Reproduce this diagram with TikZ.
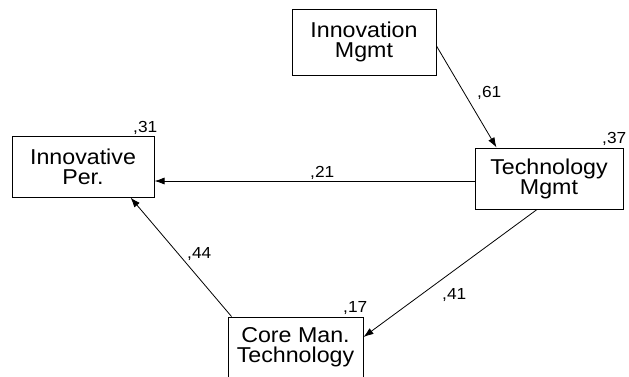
\documentclass[tikz,border=0pt]{standalone}
\usepackage{fontspec}
\usetikzlibrary{arrows.meta}
\newfontfamily\amosfont[FakeStretch=1.08]{Liberation Sans}

\begin{document}
\begin{tikzpicture}[x=1pt,y=-1pt,
						var/.style={draw,line width=1pt,inner sep=0pt,minimum height=61pt,align=center,font=\amosfont\fontsize{21.5}{20}\selectfont},
						coef/.style={inner sep=0pt,anchor=base west,font=\amosfont\fontsize{16}{16}\selectfont},
						effect/.style={line width=0.8pt,-{Latex[length=10pt,width=7pt]}}]

		\useasboundingbox[fill=white] (0,0) rectangle (629,376);

		\node[var,minimum width=144pt,minimum height=66pt]	(im)	at (364,42)		{Innovation\\Mgmt};
		\node[var,minimum width=148pt]						(tm)	at (549,178.5)	{Technology\\Mgmt};
		\node[var,minimum width=142pt]						(ip)	at (83,166.5)	{Innovative\\Per.};
		\node[var,minimum width=135pt]						(cm)	at (295.5,347.5)	{Core Man.\\Technology};

		\node[coef]	(r2ip)	at (133,132)	{,31};
		\node[coef]	(r2tm)	at (602,143)	{,37};
		\node[coef]	(r2cm)	at (343,312)	{,17};
		\node[coef]	(b61)	at (477,97)		{,61};
		\node[coef]	(b21)	at (310,177)	{,21};
		\node[coef]	(b44)	at (187,258)	{,44};
		\node[coef]	(b41)	at (442,299)	{,41};

		\draw[effect] ([yshift=-4pt]im.east) -- ([xshift=22pt]tm.north west);
		\draw[effect] ([yshift=-2.5pt]tm.west) -- ([yshift=-2.5pt]tm.west -| ip.east);
		\draw[effect] ([xshift=4pt]cm.north west) -- ([xshift=-24pt]ip.south east);
		\draw[effect] ([xshift=-12pt]tm.south) -- ([yshift=10.5pt]cm.east);
	\end{tikzpicture}
\end{document}
